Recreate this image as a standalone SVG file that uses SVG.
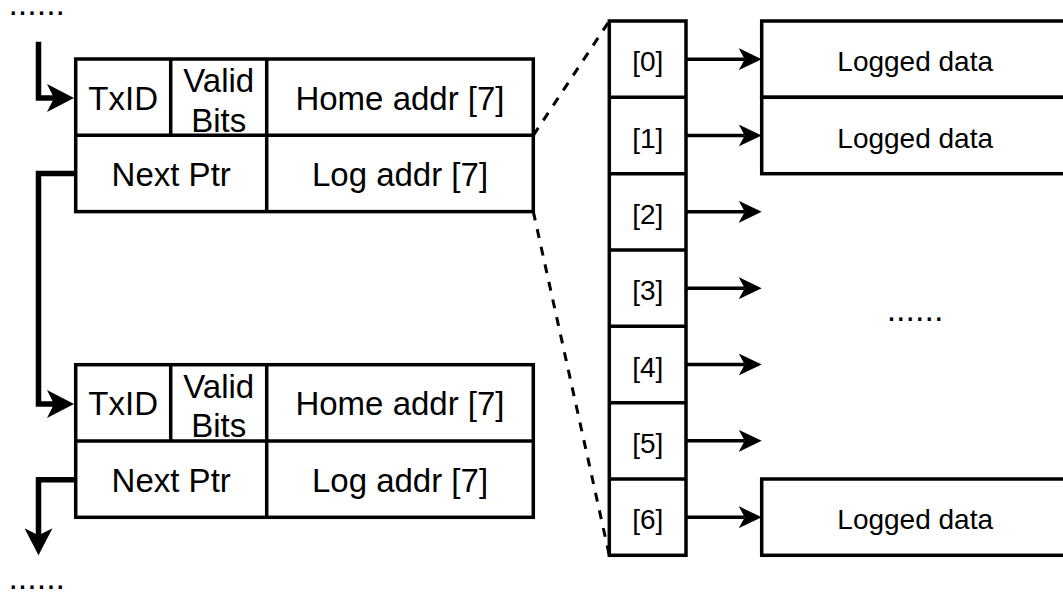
<svg xmlns="http://www.w3.org/2000/svg" width="1063" height="592" viewBox="0 0 1063 592">
  <style>
    .box { fill: #ffffff; stroke: #000000; stroke-width: 3.5; }
    .div { fill: none; stroke: #000000; stroke-width: 3.5; }
    .big { font-family: "Liberation Sans", Arial, Helvetica, sans-serif; font-size: 33px; fill: #000000; text-anchor: middle; }
    .small { font-family: "Liberation Sans", Arial, Helvetica, sans-serif; font-size: 28px; fill: #000000; text-anchor: middle; }
    .dots { font-family: "Liberation Sans", Arial, Helvetica, sans-serif; font-size: 34px; fill: #000000; }
    .link { fill: none; stroke: #000000; stroke-width: 5.5; stroke-linejoin: miter; }
    .ptr { fill: none; stroke: #000000; stroke-width: 3.5; }
    .zoom { fill: none; stroke: #000000; stroke-width: 3; stroke-dasharray: 9 9; }
  </style>
  <defs>
    <marker id="headBig" markerUnits="userSpaceOnUse" viewBox="0 0 27 28" markerWidth="27" markerHeight="28" refX="7" refY="14" orient="auto">
      <path d="M0,0 L27,14 L0,28 L7,14 Z" fill="#000000"/>
    </marker>
    <marker id="headSmall" markerUnits="userSpaceOnUse" viewBox="0 0 23 22" markerWidth="23" markerHeight="22" refX="6" refY="11" orient="auto">
      <path d="M0,0 L23,11 L0,22 L6,11 Z" fill="#000000"/>
    </marker>
  </defs>

  <!-- continuation marks -->
  <text class="dots" x="8.4" y="15.2">......</text>
  <text class="dots" x="8.4" y="588.8">......</text>

  <!-- first log entry -->
  <g id="entry1">
    <rect class="box" x="75.7" y="59" width="457.6" height="152.6"/>
    <path class="div" d="M75.7,135.3 H533.3 M170.7,59 V135.3 M266.7,59 V211.6"/>
    <text class="big" x="123.2" y="109.7">TxID</text>
    <text class="big" x="218.7"><tspan x="218.7" y="92.3">Valid</tspan><tspan x="218.7" y="131.7">Bits</tspan></text>
    <text class="big" x="400" y="109.7">Home addr [7]</text>
    <text class="big" x="171.2" y="186">Next Ptr</text>
    <text class="big" x="400" y="186">Log addr [7]</text>
  </g>

  <!-- second log entry -->
  <g id="entry2">
    <rect class="box" x="75.7" y="364.7" width="457.6" height="152.6"/>
    <path class="div" d="M75.7,441 H533.3 M170.7,364.7 V441 M266.7,364.7 V517.3"/>
    <text class="big" x="123.2" y="415.4">TxID</text>
    <text class="big" x="218.7"><tspan x="218.7" y="398">Valid</tspan><tspan x="218.7" y="437.4">Bits</tspan></text>
    <text class="big" x="400" y="415.4">Home addr [7]</text>
    <text class="big" x="171.2" y="491.7">Next Ptr</text>
    <text class="big" x="400" y="491.7">Log addr [7]</text>
  </g>

  <!-- expanded address array -->
  <g id="addr-array">
    <rect class="box" x="609.3" y="21" width="76.7" height="534.3"/>
    <path class="div" d="M609.3,97.3 H686 M609.3,173.7 H686 M609.3,250 H686 M609.3,326.3 H686 M609.3,402.7 H686 M609.3,479 H686"/>
    <text class="small" x="647.7" y="71.2">[0]</text>
    <text class="small" x="647.7" y="147.5">[1]</text>
    <text class="small" x="647.7" y="223.9">[2]</text>
    <text class="small" x="647.7" y="300.2">[3]</text>
    <text class="small" x="647.7" y="376.5">[4]</text>
    <text class="small" x="647.7" y="452.9">[5]</text>
    <text class="small" x="647.7" y="529.2">[6]</text>
  </g>

  <!-- logged data blocks -->
  <g id="data0">
    <rect class="box" x="761.7" y="21" width="307" height="76.3"/>
    <text class="small" x="915.2" y="71.2">Logged data</text>
  </g>
  <g id="data1">
    <rect class="box" x="761.7" y="97.3" width="307" height="76.4"/>
    <text class="small" x="915.2" y="147.5">Logged data</text>
  </g>
  <g id="data6">
    <rect class="box" x="761.7" y="479" width="307" height="76.3"/>
    <text class="small" x="915.2" y="529.2">Logged data</text>
  </g>
  <text class="dots" x="915" y="321.2" text-anchor="middle">......</text>

  <!-- connectors -->
  <g id="connectors">
    <path class="link" d="M38.5,41.7 V98 H54" marker-end="url(#headBig)"/>
    <path class="link" d="M75.7,173.5 H38.5 V404 H54" marker-end="url(#headBig)"/>
    <path class="link" d="M75.7,479.7 H38.5 V535.3" marker-end="url(#headBig)"/>
    <path class="ptr" d="M686,59.2 H744.7" marker-end="url(#headSmall)"/>
    <path class="ptr" d="M686,135.5 H744.7" marker-end="url(#headSmall)"/>
    <path class="ptr" d="M686,211.8 H744.7" marker-end="url(#headSmall)"/>
    <path class="ptr" d="M686,288.2 H744.7" marker-end="url(#headSmall)"/>
    <path class="ptr" d="M686,364.5 H744.7" marker-end="url(#headSmall)"/>
    <path class="ptr" d="M686,440.8 H744.7" marker-end="url(#headSmall)"/>
    <path class="ptr" d="M686,517.2 H744.7" marker-end="url(#headSmall)"/>
    <path class="zoom" d="M533.3,135.3 L609.3,21"/>
    <path class="zoom" d="M533.3,211.6 L609.3,555.3"/>
  </g>
</svg>
